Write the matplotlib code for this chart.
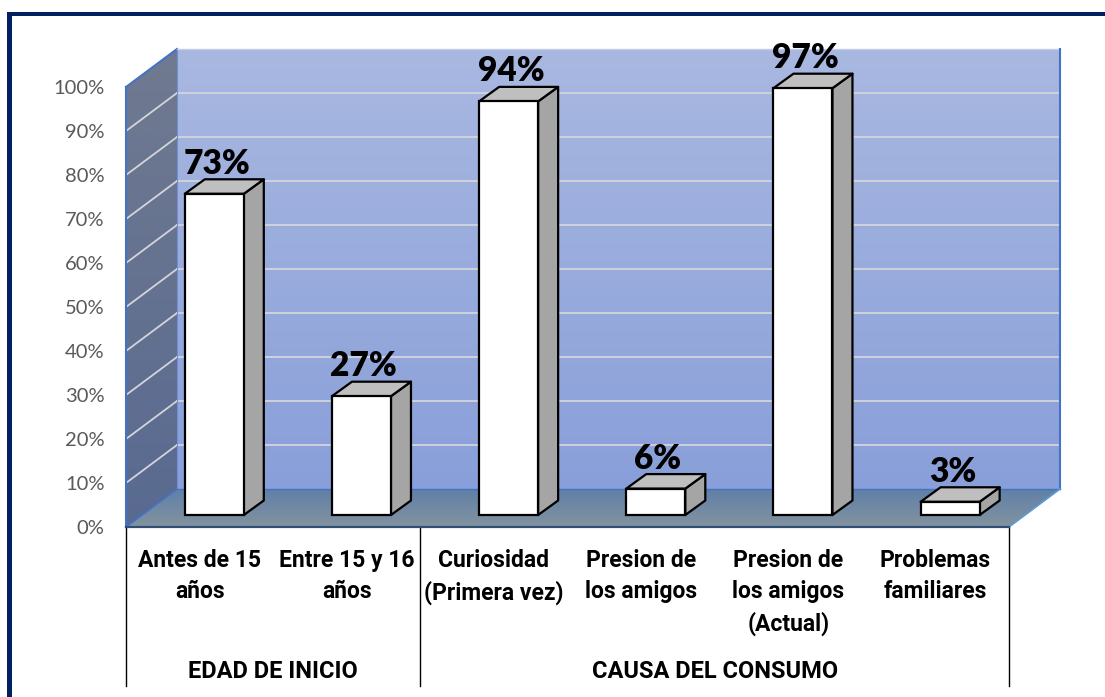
import numpy as np
import matplotlib
matplotlib.use("Agg")
import matplotlib.pyplot as plt
from matplotlib.patches import Polygon, Rectangle
from matplotlib.colors import LinearSegmentedColormap

categories = ["Antes de 15\naños", "Entre 15 y 16\naños", "Curiosidad\n(Primera vez)",
              "Presion de\nlos amigos", "Presion de\nlos amigos\n(Actual)", "Problemas\nfamiliares"]
values = [73, 27, 94, 6, 97, 3]
groups = ["EDAD DE INICIO", "CAUSA DEL CONSUMO"]
group_spans = [(0, 2), (2, 6)]
yticks = list(range(0, 101, 10))

W, H = 1105, 697
cat_font = "Roboto"

# 3d look: how far the back wall sits from the front plane, in data units
DX, DY = 51 / 147.17, 38 / 4.4
BAR_W = 59 / 147.17
BAR_DX, BAR_DY = 20 / 147.17, 14.5 / 4.4
BASE_DX, BASE_DY = 0.1, 2.73


def gradient(ax, poly, top, bottom, extent):
    cmap = LinearSegmentedColormap.from_list("g", [top, bottom])
    im = ax.imshow(np.linspace(0, 1, 256).reshape(-1, 1), cmap=cmap, aspect="auto",
                   extent=extent, origin="upper", zorder=1)
    p = Polygon(poly, closed=True, transform=ax.transData, fc="none", ec="none", clip_on=False)
    ax.add_patch(p)
    im.set_clip_box(ax.figure.bbox)
    im.set_clip_path(p)


fig = plt.figure(figsize=(W / 100, H / 100), dpi=100)
ax = fig.add_axes([126 / W, 1 - 527 / H, 883 / W, 440 / H])
ax.set_facecolor("none")

# walls and floor
gradient(ax, [(DX, DY), (6 + DX, DY), (6 + DX, 100 + DY), (DX, 100 + DY)],
         "#a9b8e1", "#899fd9", (DX, 6 + DX, DY, 100 + DY))
gradient(ax, [(0, 0), (DX, DY), (DX, 100 + DY), (0, 100)],
         "#707a90", "#596a90", (0, DX, 0, 100 + DY))
gradient(ax, [(0, 0), (6, 0), (6 + DX, DY), (DX, DY)],
         "#5f80a8", "#84939f", (0, 6 + DX, 0, DY))

for t in yticks[1:-1]:
    ax.plot([DX, 6 + DX], [t + DY, t + DY], color="#d3d5da", lw=1.3, zorder=2, clip_on=False)
    ax.plot([0, DX], [t, t + DY], color="#d3d5da", lw=1.3, zorder=2, clip_on=False)

blue = "#4472c4"
ax.plot([0, 0], [0, 100], color=blue, lw=1.5, zorder=2, clip_on=False)
ax.plot([0, DX], [100, 100 + DY], color=blue, lw=1.5, zorder=2, clip_on=False)
ax.plot([0, DX], [0, DY], color=blue, lw=1.2, zorder=2, clip_on=False)
ax.plot([DX, DX], [DY, 100 + DY], color="#6f8fd0", lw=0.8, zorder=2, clip_on=False)
ax.plot([DX, 6 + DX], [DY, DY], color=blue, lw=1.0, zorder=2, clip_on=False)
ax.plot([DX, 6 + DX], [100 + DY, 100 + DY], color="#c3cde8", lw=1.0, zorder=2, clip_on=False)
ax.plot([6 + DX, 6 + DX], [DY, 100 + DY], color=blue, lw=1.5, zorder=2, clip_on=False)
ax.plot([6, 6 + DX], [0, DY], color="#5b9bd5", lw=1.2, zorder=2, clip_on=False)
ax.plot([0, 6], [0, 0], color="#2f4f74", lw=1.6, zorder=2, clip_on=False)

# bars
for i, v in enumerate(values):
    x0 = i + 0.5 + BASE_DX - BAR_W / 2
    x1 = x0 + BAR_W
    y0 = BASE_DY
    y1 = BASE_DY + v
    ax.add_patch(Polygon([(x1, y0), (x1 + BAR_DX, y0 + BAR_DY), (x1 + BAR_DX, y1 + BAR_DY), (x1, y1)],
                         fc="#a5a5a5", ec="black", lw=1.6, zorder=3, joinstyle="round", clip_on=False))
    ax.add_patch(Polygon([(x0, y1), (x1, y1), (x1 + BAR_DX, y1 + BAR_DY), (x0 + BAR_DX, y1 + BAR_DY)],
                         fc="#bfbfbf", ec="black", lw=1.6, zorder=3, joinstyle="round", clip_on=False))
    ax.add_patch(Rectangle((x0, y0), BAR_W, v, fc="white", ec="black", lw=1.6, zorder=4, clip_on=False))
    ax.text(x0 + BAR_W / 2 + 0.015, y1 + BAR_DY - 0.1, "%d%%" % v, ha="center", va="bottom",
            fontsize=24, fontweight="heavy", family="Lato", color="black", zorder=5, clip_on=False)

ax.set_xlim(0, 6)
ax.set_ylim(0, 100)
ax.set_yticks(yticks)
ax.set_yticklabels(["%d%%" % t for t in yticks], family="Lato", fontsize=14.5, color="#595959")
ax.set_xticks(np.arange(6) + 0.5)
ax.set_xticklabels(categories, family=cat_font, fontsize=16.5, fontweight="bold", color="black",
                   linespacing=1.45)
ax.tick_params(axis="y", length=0, pad=15.5)
ax.tick_params(axis="x", length=0, pad=16)
for s in ax.spines.values():
    s.set_visible(False)

# group separators and names below the axis
for g, (a, b) in zip(groups, group_spans):
    ax.text((a + b) / 2, -32.9, g, ha="center", va="center", family=cat_font, fontsize=17,
            fontweight="bold", color="black", clip_on=False)
for x in [0, 2, 6]:
    ax.plot([x, x], [0, -36.2], color="black", lw=1.0, clip_on=False, zorder=1)

# dark blue frame of the picture
fig.add_artist(Rectangle((7 / W, 0), 5 / W, 1 - 12 / H, transform=fig.transFigure, fc="#002060", ec="none"))
fig.add_artist(Rectangle((7 / W, 1 - 15.5 / H), 1 - 7 / W, 3.5 / H, transform=fig.transFigure, fc="#002060", ec="none"))

fig.savefig("out.png", dpi=100)
